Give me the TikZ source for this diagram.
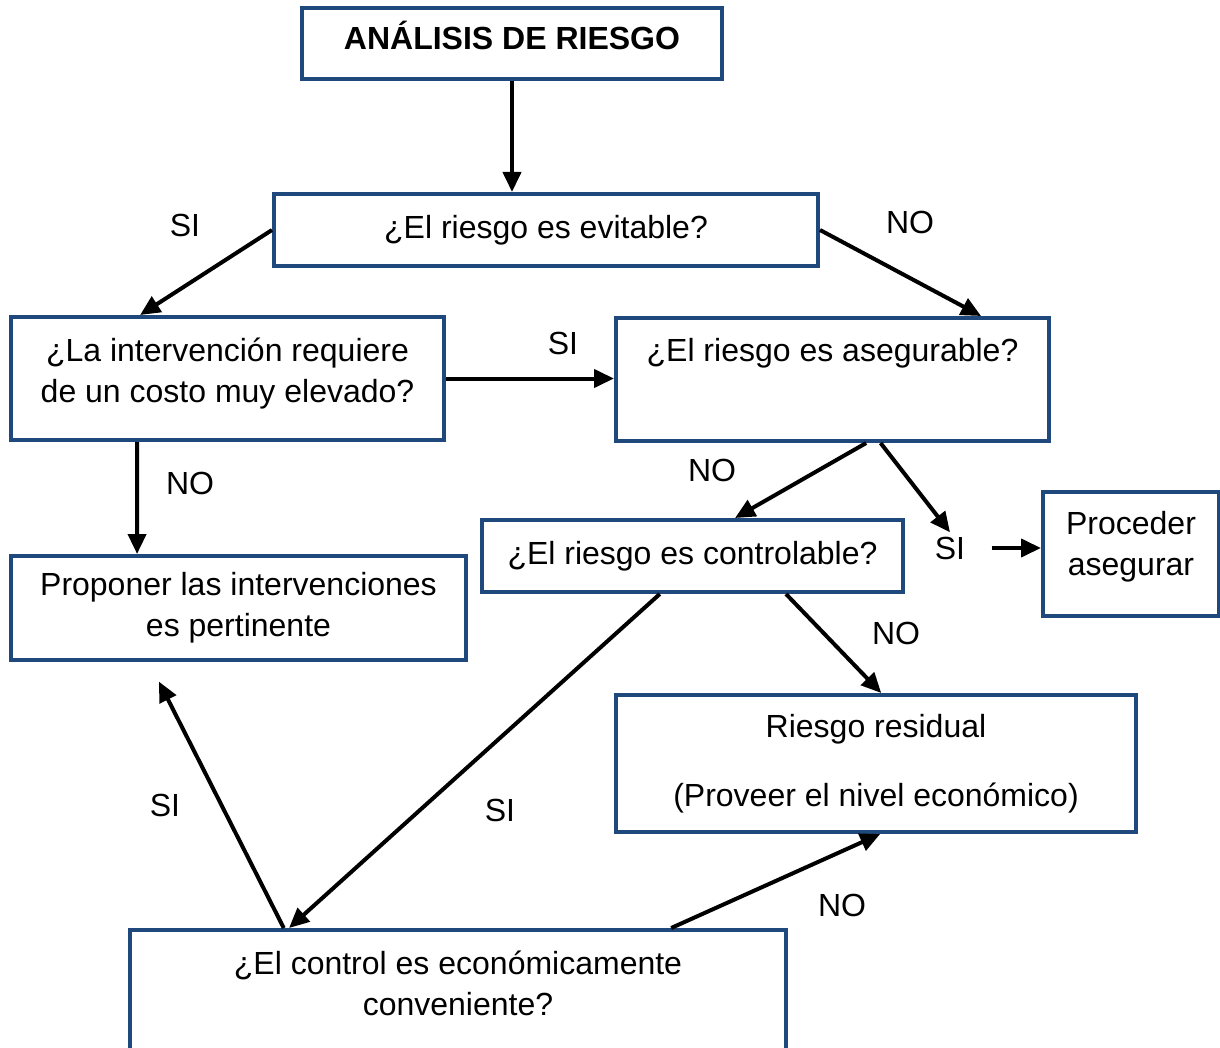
\documentclass[tikz,border=0pt]{standalone}
\usepackage{fontspec}
\setmainfont{Liberation Sans}
\usepackage{xcolor}
\usepackage{tikz}
\usetikzlibrary{arrows.meta}
\usetikzlibrary{calc}
\definecolor{boxblue}{RGB}{31,73,125}
\tikzset{
    flow box/.style={
        draw=boxblue,
        line width=2pt,
        align=center,
        inner sep=0pt,
        font=\fontsize{16pt}{20.5pt}\selectfont
    },
    answer/.style={
        inner sep=2pt,
        font=\fontsize{16pt}{20.5pt}\selectfont
    },
    flow/.style={
        line width=2pt,
        -{Triangle[length=10pt,width=9pt]}
    }
}
\begin{document}
\begin{tikzpicture}[x=0.5pt,y=-0.5pt]
          \clip (0,0) rectangle (1220,1048);
          \fill[white] (0,0) rectangle (1220,1048);

          \node[flow box,minimum width=210pt,minimum height=35.5pt,font=\fontsize{16pt}{20.5pt}\bfseries] (A) at (512,43.5) {ANÁLISIS DE RIESGO\\[-12.5pt]\mbox{}};
          \node[flow box,minimum width=272pt,minimum height=36pt] (B) at (546,230) {¿El riesgo es evitable?};
          \node[flow box,minimum width=216.5pt,minimum height=61.5pt] (C) at (227.5,378.5) {¿La intervención requiere\\de un costo muy elevado?\\[-12.5pt]\mbox{}};
          \node[flow box,minimum width=216.5pt,minimum height=61.5pt] (D) at (832.5,379.5) {¿El riesgo es asegurable?\\[9pt] \mbox{}};
          \node[flow box,minimum width=210.5pt,minimum height=36pt] (E) at (692.5,556) {¿El riesgo es controlable?};
          \node[flow box,minimum width=88pt,minimum height=62pt] (F) at (1131,554) {Proceder\\asegurar\\[-10pt]\mbox{}};
          \node[flow box,minimum width=227.5pt,minimum height=52pt] (G) at (238.5,608) {Proponer las intervenciones\\es pertinente};
          \node[flow box,minimum width=260pt,minimum height=68.5pt] (H) at (876,763.5) {Riesgo residual\\[14pt](Proveer el nivel económico)};
          \node[flow box,minimum width=328pt,minimum height=74pt] (I) at (458,1004) {¿El control es económicamente\\conveniente?\\ \mbox{}};

          \node[answer] (siB) at (185,225) {SI};
          \node[answer] (noB) at (910,222) {NO};
          \node[answer] (siC) at (563,343) {SI};
          \node[answer] (noC) at (190,483) {NO};
          \node[answer] (noD) at (712,470) {NO};
          \node[answer] (siD) at (950,548) {SI};
          \node[answer] (noE) at (896,633) {NO};
          \node[answer] (siE) at (500,810) {SI};
          \node[answer] (siI) at (165,805) {SI};
          \node[answer] (noI) at (842,905) {NO};

          \draw[flow] (A.south) -- (A.south |- B.north);
          \draw[flow] (B.west) -- ($(C.north west)!0.3!(C.north east)$);
          \draw[flow] (B.east) -- ($(D.north west)!0.84!(D.north east)$);
          \draw[flow] (C.east) -- (C.east -| D.west);
          \draw[flow] ($(C.south west)!0.293!(C.south east)$) -- ($(G.north west)!0.279!(G.north east)$);
          \draw[flow] ($(D.south west)!0.577!(D.south east)$) -- ($(E.north west)!0.6!(E.north east)$);
          \draw[flow] ($(D.south west)!0.61!(D.south east)$) -- (siD.north);
          \draw[flow] (siD.east) ++(22,0) -- (F.west |- siD.east);
          \draw[flow] ($(E.south west)!0.72!(E.south east)$) -- ($(H.north west)!0.51!(H.north east)$);
          \draw[flow] ($(E.south west)!0.423!(E.south east)$) -- ($(I.north west)!0.244!(I.north east)$);
          \draw[flow,shorten >=11pt] ($(I.north west)!0.236!(I.north east)$) -- ($(G.south west)!0.305!(G.south east)$);
          \draw[flow] ($(I.north west)!0.823!(I.north east)$) -- ($(H.south west)!0.508!(H.south east)$);
        \end{tikzpicture}
\end{document}
